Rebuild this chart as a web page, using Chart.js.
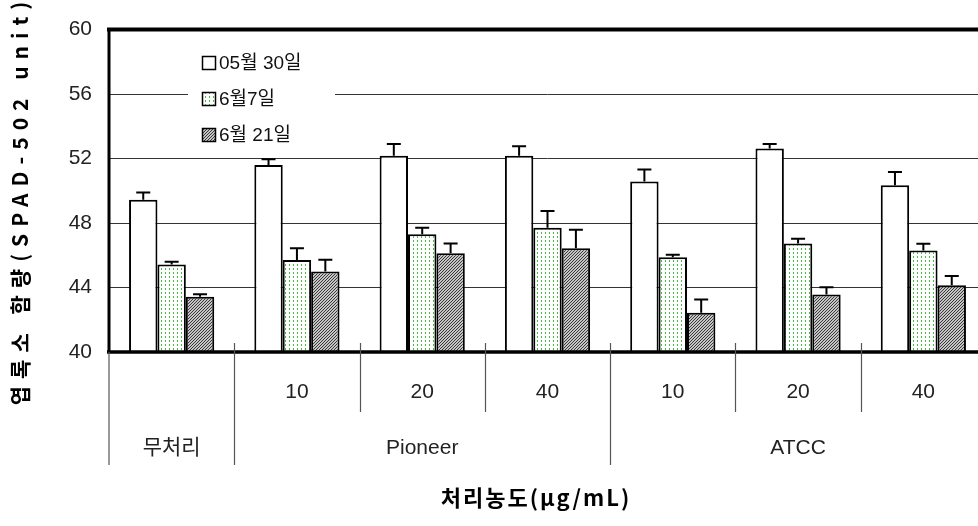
<!DOCTYPE html>
<html>
<head>
<meta charset="utf-8">
<script src="https://cdn.jsdelivr.net/npm/chart.js@4/dist/chart.umd.min.js"></script>
<style>
html,body{margin:0;padding:0;background:#fff;overflow:hidden;width:978px;height:526px;}
canvas{display:block;}
</style>
</head>
<body>
<canvas id="c" width="1000" height="526"></canvas>
<script>
// ---- data ----
const subLabels = ['', '10', '20', '40', '10', '20', '40'];
const groupLabels = ['무처리', 'Pioneer', 'ATCC'];
const groupSpans = [1, 3, 3];
const seriesNames = ['05월 30일', '6월7일', '6월 21일'];
const may30 = [49.45, 51.60, 52.18, 52.18, 50.58, 52.62, 50.34];
const may30Err = [0.45, 0.36, 0.72, 0.58, 0.74, 0.28, 0.82];
const jun7 = [45.43, 45.70, 47.30, 47.71, 45.88, 46.73, 46.30];
const jun7Err = [0.17, 0.74, 0.41, 1.03, 0.15, 0.29, 0.41];
const jun21 = [43.42, 45.00, 46.13, 46.44, 42.44, 43.57, 44.14];
const jun21Err = [0.17, 0.72, 0.60, 1.15, 0.82, 0.45, 0.57];
const yTicks = [40, 44, 48, 52, 56, 60];
const xTitle = '처리농도(μg/mL)';
const yTitle = '엽록소 함량(SPAD-502 unit)';

// ---- patterns ----
function dotPattern() {
  const c = document.createElement('canvas'); c.width = 4; c.height = 4;
  const g = c.getContext('2d');
  g.fillStyle = '#fff'; g.fillRect(0, 0, 4, 4);
  g.fillStyle = '#44bb44'; g.fillRect(1, 0, 1, 2);
  return g.createPattern(c, 'repeat');
}
function hatchPattern() {
  const c = document.createElement('canvas'); c.width = 3; c.height = 3;
  const g = c.getContext('2d');
  g.fillStyle = '#c4c4c4'; g.fillRect(0, 0, 3, 3);
  g.fillStyle = '#3a3a3a';
  g.fillRect(2, 0, 1, 1); g.fillRect(1, 1, 1, 1); g.fillRect(0, 2, 1, 1);
  return g.createPattern(c, 'repeat');
}
const fills = ['#ffffff', dotPattern(), hatchPattern()];
const errs = [may30Err, jun7Err, jun21Err];

const NUMFONT = '"Liberation Sans", "Noto Sans CJK KR", sans-serif';
const KFONT = '"Noto Sans CJK KR", sans-serif';

const decor = {
  id: 'decor',
  afterDatasetsDraw(chart) {
    const ctx = chart.ctx, y = chart.scales.y;
    ctx.save();
    ctx.strokeStyle = '#000'; ctx.lineWidth = 2;
    chart.data.datasets.forEach((ds, di) => {
      const meta = chart.getDatasetMeta(di);
      meta.data.forEach((bar, i) => {
        const top = y.getPixelForValue(ds.data[i]);
        const e = y.getPixelForValue(ds.data[i] + errs[di][i]);
        ctx.beginPath();
        ctx.moveTo(bar.x, top); ctx.lineTo(bar.x, e);
        ctx.moveTo(bar.x - 7, e); ctx.lineTo(bar.x + 7, e);
        ctx.stroke();
      });
    });
    ctx.restore();
  },
  afterDraw(chart) {
    const ctx = chart.ctx, a = chart.chartArea, x = chart.scales.x;
    const n = subLabels.length;
    const catW = (a.right - a.left) / n;
    ctx.save();
    // legend
    ctx.fillStyle = '#fff';
    ctx.fillRect(188, 40, 147, 112);
    seriesNames.forEach((name, i) => {
      const by = 56 + i * 36;
      ctx.fillStyle = fills[i];
      ctx.fillRect(202, by, 14, 14);
      ctx.strokeStyle = '#000'; ctx.lineWidth = 1.5;
      ctx.strokeRect(202.5, by + 0.5, 13, 13);
      ctx.fillStyle = '#111';
      ctx.font = '19px ' + NUMFONT;
      ctx.textAlign = 'left'; ctx.textBaseline = 'middle';
      ctx.fillText(name, 219, by + 8);
    });
    // frame lines
    ctx.strokeStyle = '#000';
    ctx.lineWidth = 4;
    ctx.beginPath(); ctx.moveTo(a.left - 2, a.top); ctx.lineTo(a.right + 20, a.top); ctx.stroke();
    ctx.lineWidth = 3.5;
    ctx.beginPath(); ctx.moveTo(a.left - 2, a.bottom); ctx.lineTo(a.right + 20, a.bottom); ctx.stroke();
    ctx.lineWidth = 3;
    ctx.beginPath(); ctx.moveTo(a.left, a.top); ctx.lineTo(a.left, a.bottom); ctx.stroke();
    // separators
    ctx.strokeStyle = '#555'; ctx.lineWidth = 1.2;
    ctx.beginPath(); ctx.moveTo(a.left, a.bottom); ctx.lineTo(a.left, 465); ctx.stroke();
    let cum = 0;
    const longIdx = [];
    groupSpans.forEach(s => { cum += s; longIdx.push(cum); });
    for (let k = 1; k < n; k++) {
      const px = Math.round(a.left + k * catW) + 0.5;
      ctx.beginPath();
      ctx.moveTo(px, a.bottom - 9);
      ctx.lineTo(px, longIdx.includes(k) ? 465 : 412);
      ctx.stroke();
    }
    // sub labels
    ctx.fillStyle = '#222';
    ctx.textAlign = 'center'; ctx.textBaseline = 'middle';
    ctx.font = '21px ' + NUMFONT;
    subLabels.forEach((l, i) => {
      if (l) ctx.fillText(l, x.getPixelForValue(i), 392);
    });
    // group labels
    let start = 0;
    groupLabels.forEach((g, gi) => {
      const cx = a.left + (start + groupSpans[gi] / 2) * catW;
      ctx.font = '21px ' + NUMFONT;
      ctx.fillText(g, cx, 448);
      start += groupSpans[gi];
    });
    // axis titles
    ctx.fillStyle = '#000';
    ctx.font = 'bold 22px ' + KFONT;
    ctx.letterSpacing = '2px';
    ctx.fillText(xTitle, 536, 498);
    ctx.translate(20, 200);
    ctx.rotate(-Math.PI / 2);
    ctx.font = 'bold 21px ' + KFONT;
    ctx.letterSpacing = '7px';
    ctx.fillText(yTitle, 0, 0);
    ctx.restore();
  }
};

new Chart(document.getElementById('c'), {
  type: 'bar',
  data: {
    labels: subLabels,
    datasets: [may30, jun7, jun21].map((d, i) => ({
      label: seriesNames[i],
      data: d,
      backgroundColor: fills[i],
      borderColor: '#000',
      borderWidth: 2,
      borderSkipped: 'bottom',
      categoryPercentage: 0.68,
      barPercentage: 1.0
    }))
  },
  options: {
    responsive: false,
    animation: false,
    devicePixelRatio: 1,
    layout: { padding: { top: 28, left: 0, right: 14, bottom: 0 } },
    plugins: { legend: { display: false }, tooltip: { enabled: false }, title: { display: false } },
    scales: {
      x: {
        grid: { display: false, drawTicks: false },
        border: { display: false },
        ticks: { display: false },
        afterFit(s) { s.height = 174; }
      },
      y: {
        min: 40, max: 60,
        afterBuildTicks(s) { s.ticks = yTicks.map(v => ({ value: v })); },
        grid: { color: '#333', lineWidth: 1, drawTicks: false },
        border: { display: false },
        ticks: {
          padding: 17,
          color: '#222',
          font: { family: NUMFONT, size: 21 }
        },
        afterFit(s) { s.width = 109; }
      }
    }
  },
  plugins: [decor]
});
</script>
</body>
</html>
